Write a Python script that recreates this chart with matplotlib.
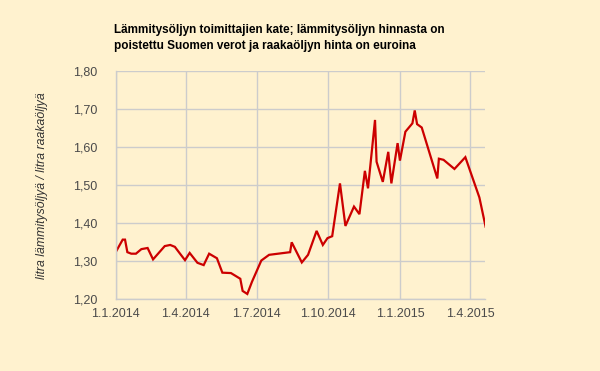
import matplotlib
matplotlib.use("Agg")
import matplotlib.pyplot as plt
import pandas as pd

# data
dates = ["2014-01-01", "2014-01-10", "2014-01-13", "2014-01-16", "2014-01-21", "2014-01-27",
         "2014-02-03", "2014-02-11", "2014-02-18", "2014-03-05", "2014-03-12", "2014-03-18",
         "2014-03-25", "2014-03-31", "2014-04-06", "2014-04-16", "2014-04-24", "2014-05-01",
         "2014-05-11", "2014-05-18", "2014-05-29", "2014-06-10", "2014-06-13", "2014-06-19",
         "2014-06-25", "2014-07-07", "2014-07-17", "2014-08-13", "2014-08-15", "2014-08-28",
         "2014-09-05", "2014-09-16", "2014-09-24", "2014-09-30", "2014-10-06", "2014-10-16",
         "2014-10-23", "2014-11-03", "2014-11-10", "2014-11-17", "2014-11-21", "2014-11-30",
         "2014-12-02", "2014-12-10", "2014-12-17", "2014-12-21", "2014-12-29", "2015-01-01",
         "2015-01-08", "2015-01-17", "2015-01-20", "2015-01-23", "2015-01-29", "2015-02-18",
         "2015-02-20", "2015-02-26", "2015-03-12", "2015-03-26", "2015-04-13", "2015-04-21"]
kate = [1.324, 1.357, 1.357, 1.324, 1.320, 1.320,
        1.332, 1.335, 1.305, 1.340, 1.343, 1.338,
        1.319, 1.303, 1.322, 1.296, 1.290, 1.320,
        1.308, 1.270, 1.269, 1.254, 1.222, 1.214,
        1.246, 1.302, 1.317, 1.324, 1.350, 1.297,
        1.317, 1.380, 1.343, 1.361, 1.366, 1.505,
        1.393, 1.444, 1.424, 1.538, 1.492, 1.672,
        1.562, 1.509, 1.588, 1.505, 1.611, 1.565,
        1.641, 1.663, 1.697, 1.661, 1.652, 1.518,
        1.570, 1.567, 1.543, 1.574, 1.468, 1.391]

xticks = ["2014-01-01", "2014-04-01", "2014-07-01", "2014-10-01", "2015-01-01", "2015-04-01"]
xticklabels = ["1.1.2014", "1.4.2014", "1.7.2014", "1.10.2014", "1.1.2015", "1.4.2015"]
yticks = [1.20, 1.30, 1.40, 1.50, 1.60, 1.70, 1.80]

title = "Lämmitysöljyn toimittajien kate; lämmitysöljyn hinnasta on\npoistettu Suomen verot ja raakaöljyn hinta on euroina"
ylabel = "litra lämmitysöljyä / litra raakaöljyä"

bg = "#fff2cf"
gridc = "#cccccc"

plt.rcParams['font.family'] = ['Liberation Sans', 'DejaVu Sans']

fig = plt.figure(figsize=(6, 3.71), dpi=100, facecolor=bg)
ax = fig.add_axes([0.1928, 0.1933, 0.616, 0.6145], facecolor=bg)

x = pd.to_datetime(dates)
ax.plot(x, kate, color="#cc0000", linewidth=1.6, solid_joinstyle="miter")

ax.set_xlim(pd.Timestamp("2014-01-01"), pd.Timestamp("2015-04-20 14:00"))
ax.set_ylim(1.20, 1.80)
ax.set_xticks(pd.to_datetime(xticks))
ax.set_xticklabels(xticklabels)
ax.set_yticks(yticks)
ax.set_yticklabels([("%.2f" % v).replace(".", ",") for v in yticks])

ax.grid(True, color=gridc, linewidth=1)
ax.set_axisbelow(True)
for s in ["top", "right"]:
    ax.spines[s].set_visible(False)
for s in ["left", "bottom"]:
    ax.spines[s].set_color(gridc)
    ax.spines[s].set_linewidth(1)
ax.tick_params(length=0, labelsize=9, colors="#4a4a4a")
ax.tick_params(axis="y", pad=13)
ax.tick_params(axis="x", pad=6)

fig.text(0.19, 0.898, title, fontsize=8.5, fontweight="bold", ha="left", va="center",
         linespacing=1.45, color="black")
fig.text(0.0695, 0.5, ylabel, rotation=90, fontsize=8.8, style="italic", ha="center",
         va="center", color="#333333")

fig.savefig("out.png", dpi=100, facecolor=bg)
